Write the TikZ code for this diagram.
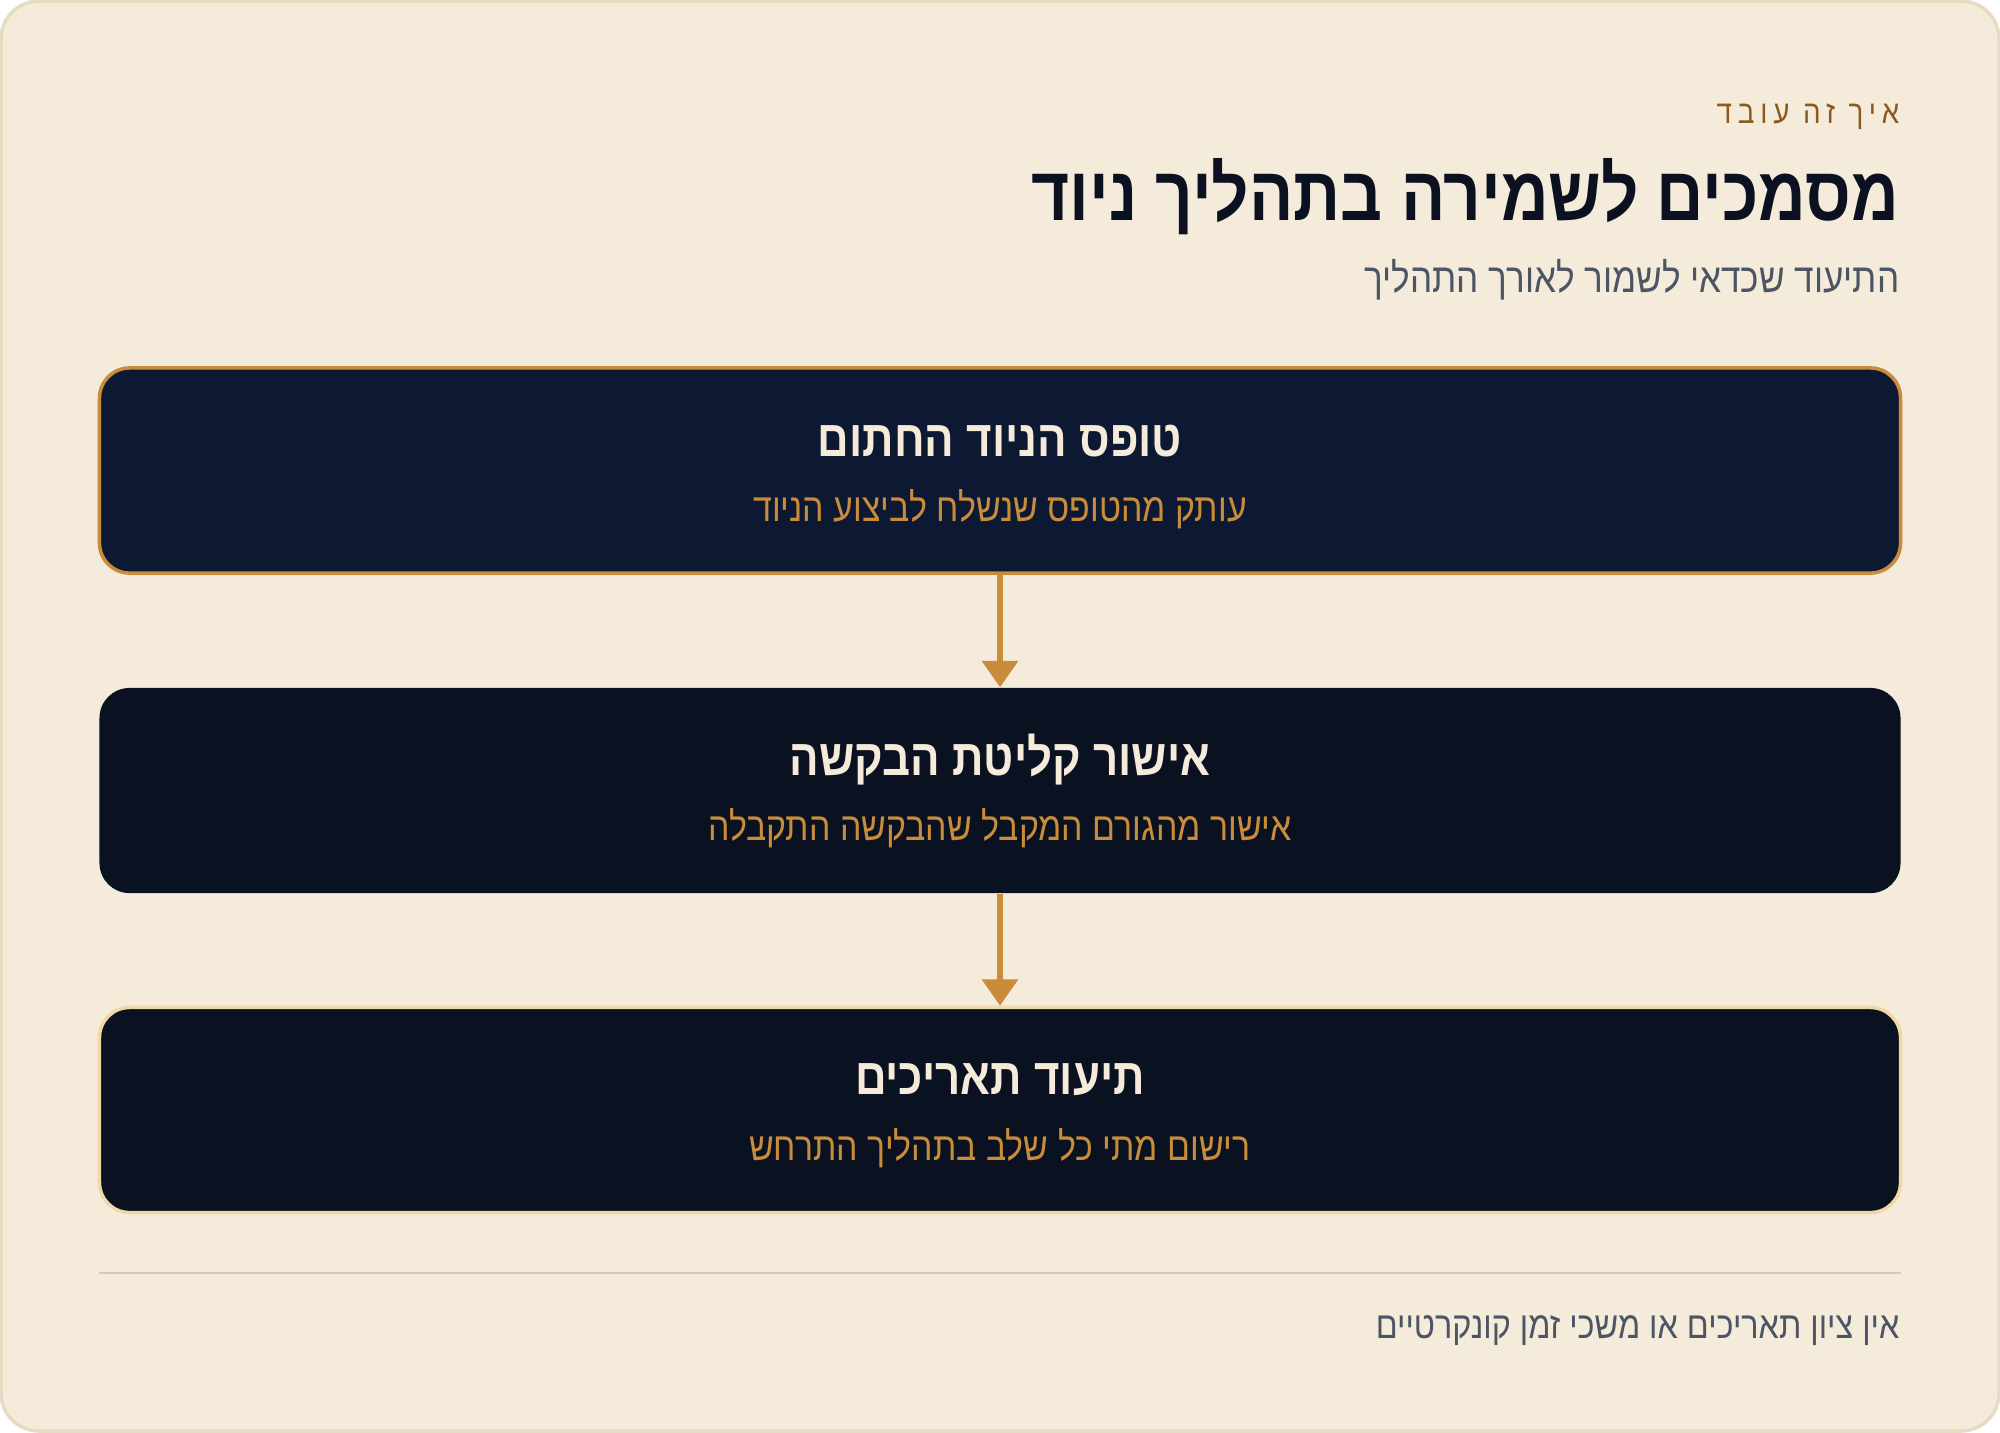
\documentclass[tikz,border=0pt]{standalone}
\usepackage{fontspec}
\setmainfont{Liberation Sans}
\newfontfamily\heb[Script=Hebrew,FakeStretch=0.86]{Liberation Sans}
\newfontfamily\hebsp[Script=Hebrew,FakeStretch=0.86,LetterSpace=18]{Liberation Sans}
\TeXXeTstate=1
\usetikzlibrary{arrows.meta,positioning}
\definecolor{cardbg}{HTML}{F4EBDB}
\definecolor{cardln}{HTML}{E6DCC4}
\definecolor{navyA}{HTML}{0D1833}
\definecolor{navyB}{HTML}{0A1120}
\definecolor{gold}{HTML}{C98C3A}
\definecolor{paleg}{HTML}{F0D9A6}
\definecolor{cream}{HTML}{F4EBDB}
\definecolor{brownk}{HTML}{8B5A1E}
\definecolor{ink}{HTML}{0B1120}
\definecolor{greyt}{HTML}{4B5563}
\definecolor{sepln}{HTML}{D3CABA}
\tikzset{
    BX/.style ={rectangle, rounded corners=0.3cm, minimum width=18cm, minimum height=2.05cm},
    BX1/.style ={BX, fill=navyA, draw=gold, line width=1pt},
    BX2/.style ={BX, fill=navyB},
    BX3/.style ={BX, fill=navyB, draw=paleg, line width=1pt},
    HT/.style ={text=cream, font=\heb\bfseries\fontsize{14.5}{17}\selectfont, inner sep=0pt},
    HS/.style ={text=gold, font=\heb\fontsize{11.2}{14}\selectfont, inner sep=0pt},
    RT/.style ={anchor=east, inner sep=0pt},
    AR/.style ={-{Triangle[width=10pt,length=7.5pt]}, draw=gold, line width=1.7pt}
}
\begin{document}
\begin{tikzpicture}[x=0.01cm,y=-0.01cm]
    \useasboundingbox (0,0) rectangle (2000,1432);
    \draw[fill=cardbg, draw=cardln, line width=1pt, rounded corners=0.38cm] (1,1) rectangle (1999,1431);
    % header
    \node[RT, text=brownk, font=\hebsp\fontsize{9.2}{11}\selectfont] (kick) at (1900,117) {\beginR איך זה עובד\endR};
    \node[RT, text=ink, font=\heb\bfseries\fontsize{21.7}{26}\selectfont] (title) at (1900,197) {\beginR מסמכים לשמירה בתהליך ניוד\endR};
    \node[RT, text=greyt, font=\heb\fontsize{11.6}{14}\selectfont] (sub) at (1900,280) {\beginR התיעוד שכדאי לשמור לאורך התהליך\endR};
    % boxes
    \node[BX1] (b1) at (1000,470.5) {};
    \node[BX2] (b2) at (1000,790.5) {};
    \node[BX3] (b3) at (1000,1110) {};
    \node[HT] (t1) at (1000,441) {\beginR טופס הניוד החתום\endR};
    \node[HS] (s1) at (1000,509) {\beginR עותק מהטופס שנשלח לביצוע הניוד\endR};
    \node[HT] (t2) at (1000,760) {\beginR אישור קליטת הבקשה\endR};
    \node[HS] (s2) at (1000,828) {\beginR אישור מהגורם המקבל שהבקשה התקבלה\endR};
    \node[HT] (t3) at (1000,1080) {\beginR תיעוד תאריכים\endR};
    \node[HS] (s3) at (1000,1148) {\beginR רישום מתי כל שלב בתהליך התרחש\endR};
    \draw[AR] (b1) -- (b2);
    \draw[AR] (b2) -- (b3);
    % footer
    \coordinate (l1) at (99,1273);
    \coordinate (l2) at (1901,1273);
    \draw[draw=sepln, line width=0.6pt] (l1) -- (l2);
    \node[RT, text=greyt, font=\heb\fontsize{10.7}{13}\selectfont] (foot) at (1900,1331) {\beginR אין ציון תאריכים או משכי זמן קונקרטיים\endR};
\end{tikzpicture}
\end{document}
